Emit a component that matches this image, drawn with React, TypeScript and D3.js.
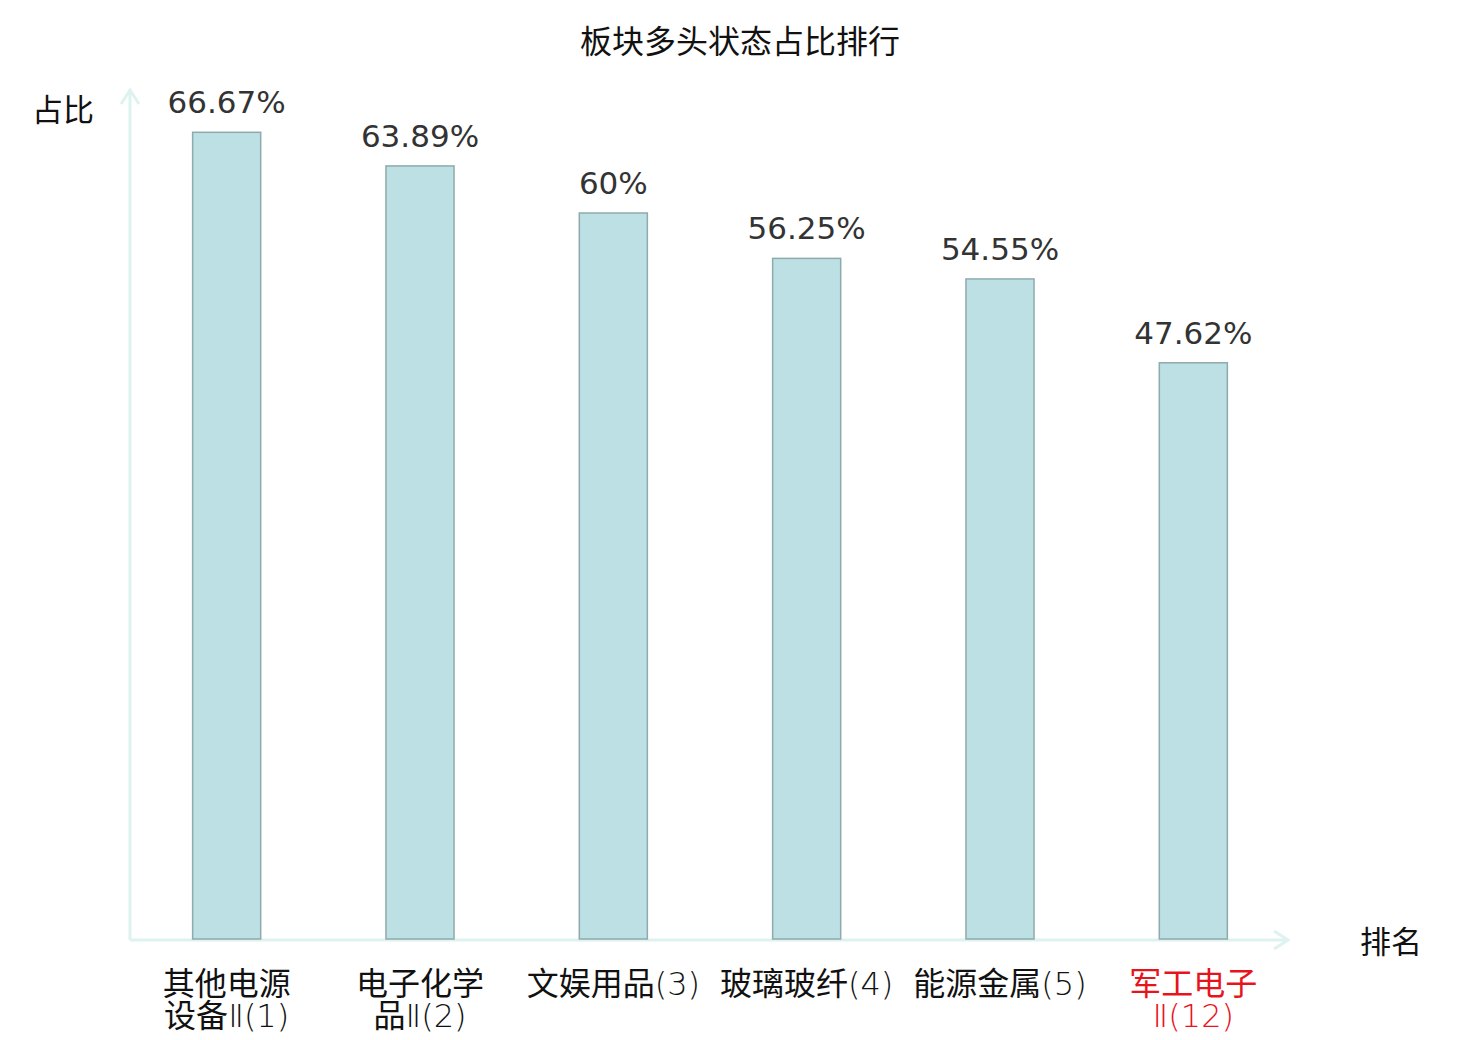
import * as d3 from "d3";
import React, { RefObject, useEffect, useRef } from "react";

const title = "板块多头状态占比排行";
const categories = ["其他电源设备Ⅱ(1)", "电子化学品Ⅱ(2)", "文娱用品(3)", "玻璃玻纤(4)", "能源金属(5)", "军工电子Ⅱ(12)"];
// each label line: [cjk part, roman/number suffix]
const labelLines: [string, string][][] = [
  [["其他电源", ""], ["设备", "Ⅱ(1)"]],
  [["电子化学", ""], ["品", "Ⅱ(2)"]],
  [["文娱用品", "(3)"]],
  [["玻璃玻纤", "(4)"]],
  [["能源金属", "(5)"]],
  [["军工电子", ""], ["", "Ⅱ(12)"]],
];
const values = [66.67, 63.89, 60, 56.25, 54.55, 47.62];
const valueLabels = ["66.67%", "63.89%", "60%", "56.25%", "54.55%", "47.62%"];
const highlighted = ["军工电子Ⅱ(12)"];
const yAxisName = "占比";
const xAxisName = "排名";

const W = 1480;
const H = 1040;
const CJK = "'Noto Sans CJK SC', 'Noto Sans', sans-serif";
const NUM = "'DejaVu Sans', 'Noto Sans CJK SC', sans-serif";

const App = () => {
  const ref: RefObject<HTMLDivElement> = useRef(null);

  useEffect(() => {
    const root = d3.select(ref.current);
    root.selectAll("*").remove();
    const svg = root
      .append("svg")
      .attr("width", W)
      .attr("height", H)
      .style("position", "absolute")
      .style("left", "0px")
      .style("top", "0px")
      .style("background", "#fff");

    const left = 130;
    const right = 1290;
    const base = 939;
    const top = 92;

    const x = d3.scaleBand<string>().domain(categories).range([left, right]).paddingInner(0.648).paddingOuter(0.324);
    const y = d3.scaleLinear().domain([0, 70]).range([base, top]);

    svg
      .append("text")
      .attr("x", 740)
      .attr("y", 53)
      .attr("text-anchor", "middle")
      .attr("font-family", CJK)
      .attr("font-size", 32)
      .attr("fill", "#111")
      .text(title);

    // axes
    const axisColor = "#def2ef";
    const ax = svg.append("g").attr("stroke", axisColor).attr("stroke-width", 3).attr("fill", "none");
    ax.append("line").attr("x1", left).attr("x2", left).attr("y1", base + 1).attr("y2", 90);
    ax.append("path").attr("d", `M${left - 9},${104} L${left},${90} L${left + 9},${104}`);
    ax.append("line").attr("x1", left).attr("x2", 1288).attr("y1", base + 1).attr("y2", base + 1);
    ax.append("path").attr("d", `M${1274},${base - 8} L${1288},${base + 1} L${1274},${base + 10}`);

    svg
      .append("text")
      .attr("x", 63)
      .attr("y", 121)
      .attr("text-anchor", "middle")
      .attr("font-family", CJK)
      .attr("font-size", 31)
      .attr("fill", "#111")
      .text(yAxisName);
    svg
      .append("text")
      .attr("x", 1391)
      .attr("y", 953)
      .attr("text-anchor", "middle")
      .attr("font-family", CJK)
      .attr("font-size", 31)
      .attr("fill", "#111")
      .text(xAxisName);

    // bars
    svg
      .append("g")
      .selectAll("rect")
      .data(values)
      .enter()
      .append("rect")
      .attr("x", (d, i) => x(categories[i]) as number)
      .attr("y", (d) => y(d))
      .attr("width", x.bandwidth())
      .attr("height", (d) => base - y(d))
      .attr("fill", "#bce0e3")
      .attr("stroke", "#8eaaac")
      .attr("stroke-width", 1.5);

    svg
      .append("g")
      .selectAll("text")
      .data(values)
      .enter()
      .append("text")
      .attr("x", (d, i) => (x(categories[i]) as number) + x.bandwidth() / 2)
      .attr("y", (d) => y(d) - 19)
      .attr("text-anchor", "middle")
      .attr("font-family", NUM)
      .attr("font-size", 31)
      .attr("fill", "#333")
      .text((d, i) => valueLabels[i]);

    // category labels
    const lg = svg.append("g");
    categories.forEach((c, i) => {
      const cx = (x(c) as number) + x.bandwidth() / 2;
      labelLines[i].forEach(([cjk, suffix], k) => {
        const t = lg
          .append("text")
          .attr("x", cx)
          .attr("y", 995 + k * 32)
          .attr("text-anchor", "middle")
          .attr("font-size", 32)
          .attr("fill", highlighted.includes(c) ? "#e8141c" : "#111");
        if (cjk) t.append("tspan").attr("font-family", CJK).text(cjk);
        if (suffix)
          t.append("tspan")
            .attr("font-family", "'DejaVu Sans', sans-serif")
            .attr("font-weight", 200)
            .text(suffix);
      });
    });
  }, [ref]);

  return <div ref={ref} />;
};

export default App;
